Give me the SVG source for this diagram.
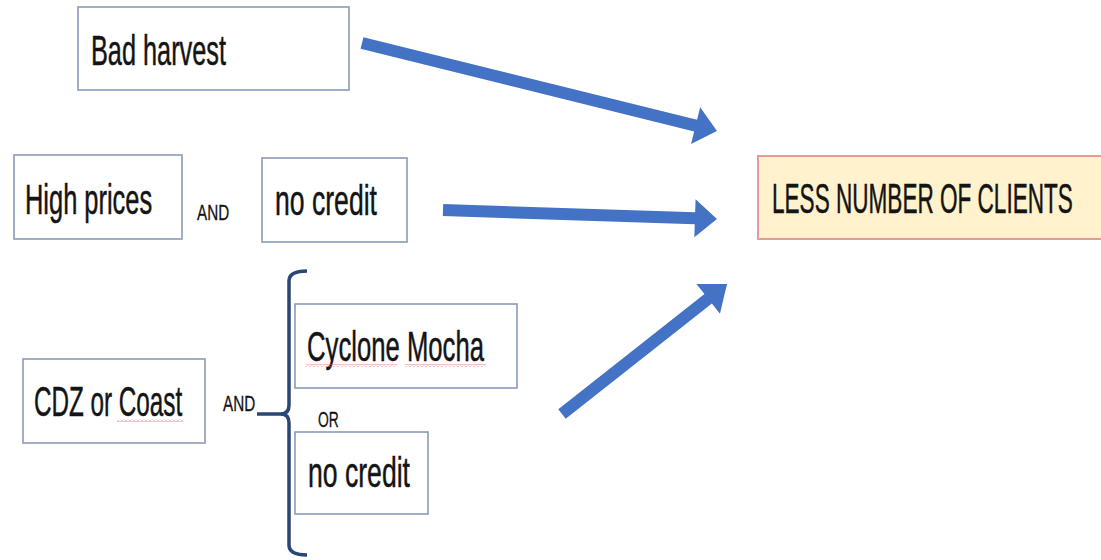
<svg xmlns="http://www.w3.org/2000/svg" width="1101" height="560" viewBox="0 0 1101 560">
  <style>
    .box { fill: #ffffff; stroke: #8a9bb8; stroke-width: 1.6; }
    .goal { fill: #fff2cc; stroke: #e89a9a; stroke-width: 2; }
    .lbl { font-family: "Liberation Sans", Arial, sans-serif; fill: #141414; stroke: #141414; stroke-width: 0.5; }
    .big { font-size: 43px; }
    .small { font-size: 22px; stroke-width: 0.3; }
    .arrow { fill: #4472c4; }
    .brace { fill: none; stroke: #2b4574; stroke-width: 3.5; stroke-linecap: butt; }
  </style>
  <defs>
    <pattern id="squiggle" width="4" height="3" patternUnits="userSpaceOnUse">
      <path d="M0,2.5 L2,0.5 L4,2.5" fill="none" stroke="#e57a7a" stroke-width="0.9"/>
    </pattern>
  </defs>

  <rect width="1101" height="560" fill="#ffffff"/>

  <!-- causes; labels are set in a condensed face by scaling x to 0.6 -->
  <g id="bad-harvest">
    <rect class="box" x="78" y="7" width="271" height="83"/>
    <text class="lbl big" transform="translate(91,65) scale(0.6,1)" textLength="225" lengthAdjust="spacingAndGlyphs">Bad harvest</text>
  </g>

  <g id="high-prices">
    <rect class="box" x="14" y="155" width="168" height="84"/>
    <text class="lbl big" transform="translate(25,214) scale(0.6,1)" textLength="212" lengthAdjust="spacingAndGlyphs">High prices</text>
  </g>

  <g id="and-1">
    <text class="lbl small" transform="translate(197,220) scale(0.7,1)" textLength="46" lengthAdjust="spacingAndGlyphs">AND</text>
  </g>

  <g id="no-credit-1">
    <rect class="box" x="262" y="158" width="145" height="84"/>
    <text class="lbl big" transform="translate(275,215) scale(0.6,1)" textLength="170" lengthAdjust="spacingAndGlyphs">no credit</text>
  </g>

  <g id="cdz-or-coast">
    <rect class="box" x="23" y="359" width="182" height="84"/>
    <text class="lbl big" transform="translate(34,416) scale(0.6,1)" textLength="247" lengthAdjust="spacingAndGlyphs">CDZ or Coast</text>
    <rect x="117" y="419" width="66" height="3" fill="url(#squiggle)"/>
  </g>

  <g id="and-2">
    <text class="lbl small" transform="translate(223,411) scale(0.7,1)" textLength="46" lengthAdjust="spacingAndGlyphs">AND</text>
  </g>

  <g id="cyclone-mocha">
    <rect class="box" x="295" y="304" width="222" height="84"/>
    <text class="lbl big" transform="translate(307,361) scale(0.6,1)" textLength="295" lengthAdjust="spacingAndGlyphs">Cyclone Mocha</text>
    <rect x="306" y="364" width="91" height="3" fill="url(#squiggle)"/>
    <rect x="405" y="364" width="81" height="3" fill="url(#squiggle)"/>
  </g>

  <g id="or">
    <text class="lbl small" transform="translate(318,427) scale(0.65,1)" textLength="32" lengthAdjust="spacingAndGlyphs">OR</text>
  </g>

  <g id="no-credit-2">
    <rect class="box" x="295" y="432" width="133" height="82"/>
    <text class="lbl big" transform="translate(308,487) scale(0.6,1)" textLength="170" lengthAdjust="spacingAndGlyphs">no credit</text>
  </g>

  <!-- effect -->
  <g id="less-clients">
    <rect class="goal" x="758" y="156" width="346" height="83"/>
    <text class="lbl big" transform="translate(772,213) scale(0.55,1)" textLength="547" lengthAdjust="spacingAndGlyphs">LESS NUMBER OF CLIENTS</text>
  </g>

  <!-- connectors -->
  <g id="connectors">
    <!-- brace grouping the two alternatives -->
    <path class="brace" d="M257,414 L282,414"/>
    <path class="brace" d="M307,271 Q289,271 289,281 L289,405 Q289,414 281,414 Q289,414 289,423 L289,545 Q289,555 307,555"/>

    <!-- block arrows: shaft half-width 6, head 22 long, 19 half-width -->
    <path class="arrow" transform="translate(362,43) rotate(13.92)" d="M0,-6 L343.7,-6 L343.7,-19 L365.7,0 L343.7,19 L343.7,6 L0,6 Z"/>
    <path class="arrow" transform="translate(443,210) rotate(1.88)" d="M0,-6 L252.1,-6 L252.1,-19 L274.1,0 L252.1,19 L252.1,6 L0,6 Z"/>
    <path class="arrow" transform="translate(562,414) rotate(-38.23)" d="M0,-6 L186.1,-6 L186.1,-19 L210.1,0 L186.1,19 L186.1,6 L0,6 Z"/>
  </g>
</svg>
